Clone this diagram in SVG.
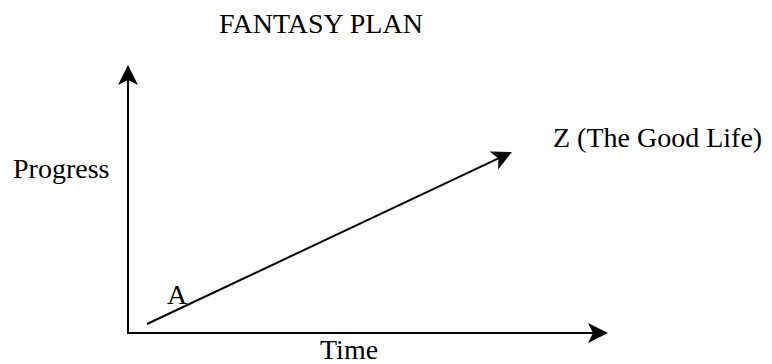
<svg xmlns="http://www.w3.org/2000/svg" width="772" height="364" viewBox="0 0 772 364">
<style>
text { font-family: "Liberation Serif", "Times New Roman", serif; font-size: 28px; fill: #000; }
.ax { stroke: #000; stroke-width: 2; fill: none; marker-end: url(#ah); }
</style>
<defs>
<marker id="ah" viewBox="-6 -11 22 22" refX="0" refY="0" markerWidth="22" markerHeight="22" markerUnits="userSpaceOnUse" orient="auto">
<path d="M15,0 L-5,-10 L0,0 L-5,10 Z" fill="#000"/>
</marker>
</defs>
<rect width="772" height="364" fill="#fff"/>
<g id="title"><text x="219" y="33">FANTASY PLAN</text></g>
<g id="connectors">
<line class="ax" x1="128" y1="334" x2="128" y2="80"/>
<line class="ax" x1="127" y1="333" x2="593" y2="333"/>
<line class="ax" x1="147" y1="324" x2="498.4" y2="158.4"/>
</g>
<g id="progress"><text x="13" y="178">Progress</text></g>
<g id="time"><text x="320" y="359">Time</text></g>
<g id="a"><text x="167" y="304">A</text></g>
<g id="z"><text x="553" y="147">Z (The Good Life)</text></g>
</svg>
